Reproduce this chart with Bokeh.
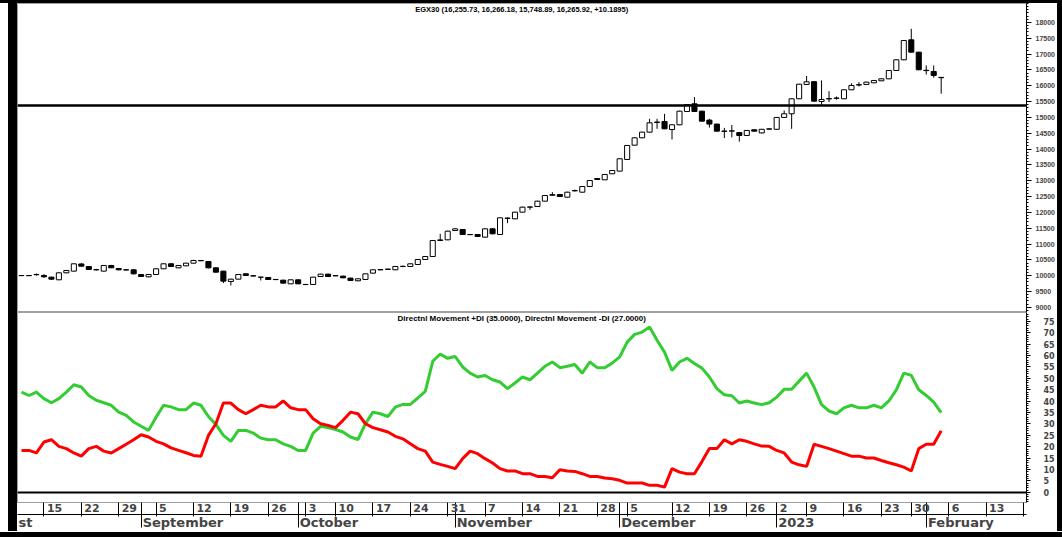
from bokeh.plotting import figure
from bokeh.layouts import column, row
from bokeh.models import ColumnDataSource, FixedTicker, LinearAxis, Range1d, Span, Label, Div
from bokeh.embed import file_html
from bokeh.resources import INLINE

# ---------------- data ----------------
opens = [10000, 10003, 10030, 10006, 9953, 9869, 10090, 10143, 10370, 10290,
         10185, 10143, 10322, 10227, 10185, 10185, 10037, 9964, 10037, 10217,
         10374, 10248, 10311, 10395, 10480, 10448, 10248, 10143, 9817, 9890,
         10058, 9996, 9953, 9943, 9880, 9858, 9742, 9869, 9722, 9722,
         9974, 10048, 9995, 9985, 9922, 9838, 9880, 10080, 10185, 10200,
         10185, 10290, 10290, 10353, 10511, 10606, 11112, 11133, 11428, 11459,
         11301, 11301, 11217, 11480, 11301, 11810, 11796, 12007, 12165, 12186,
         12354, 12540, 12565, 12480, 12680, 12638, 12817, 13070, 13029, 13219,
         13303, 13672, 14124, 14356, 14535, 14840, 14872, 14619, 14767, 15188,
         15430, 15198, 14915, 14790, 14560, 14570, 14520, 14430, 14609, 14510,
         14630, 14625, 15000, 15115, 15589, 16042, 16130, 15504, 15585, 15605,
         15589, 15873, 16025, 16042, 16094, 16157, 16220, 16484, 16821, 17452,
         17063, 16490, 16452, 16255.73]
highs = [10015, 10012, 10070, 10050, 9965, 10100, 10180, 10390, 10400, 10300,
         10215, 10330, 10340, 10245, 10200, 10200, 10050, 10050, 10225, 10385,
         10400, 10330, 10405, 10500, 10495, 10460, 10260, 10150, 9900, 10045,
         10070, 10005, 9960, 9955, 9890, 9870, 9875, 9880, 9740, 9960,
         10060, 10060, 10015, 10000, 9935, 9910, 10065, 10195, 10200, 10220,
         10300, 10320, 10385, 10520, 10620, 11120, 11322, 11420, 11495, 11470,
         11310, 11310, 11490, 11495, 11840, 11840, 12015, 12180, 12180, 12365,
         12545, 12638, 12575, 12650, 12720, 12830, 13015, 13080, 13210, 13335,
         13700, 14125, 14365, 14545, 14956, 14956, 15114, 14780, 15210, 15420,
         15641, 15210, 14957, 14800, 14670, 14760, 14540, 14600, 14620, 14635,
         14660, 15010, 15220, 15600, 16060, 16310, 16140, 16168, 15831, 15660,
         15885, 16080, 16115, 16125, 16180, 16230, 16495, 16830, 17440, 17800,
         17070, 16642, 16642, 16266.18]
lows = [9995, 9992, 10000, 9930, 9870, 9860, 10080, 10130, 10290, 10180,
        10160, 10130, 10240, 10170, 10165, 10040, 9960, 9950, 10030, 10210,
        10280, 10240, 10300, 10385, 10460, 10230, 10100, 9764, 9690, 9880,
        9995, 9975, 9848, 9870, 9865, 9750, 9735, 9730, 9700, 9710,
        9965, 9965, 9985, 9920, 9835, 9825, 9870, 10070, 10175, 10190,
        10175, 10270, 10280, 10340, 10500, 10600, 11090, 11120, 11415, 11290,
        11285, 11225, 11205, 11310, 11290, 11660, 11785, 11995, 12080, 12175,
        12345, 12530, 12490, 12470, 12660, 12625, 12805, 13030, 13020, 13210,
        13295, 13665, 14115, 14345, 14525, 14640, 14630, 14303, 14755, 15180,
        15180, 14870, 14680, 14555, 14350, 14370, 14235, 14420, 14555, 14500,
        14620, 14615, 14990, 14640, 15580, 16030, 15500, 15378, 15483, 15560,
        15580, 15865, 15978, 16035, 16085, 16150, 16210, 16475, 16810, 17050,
        16495, 16357, 16252, 15748.89]
closes = [10005, 10000, 10038, 9964, 9890, 10090, 10164, 10374, 10300, 10195,
          10190, 10322, 10248, 10185, 10180, 10058, 9974, 10037, 10217, 10374,
          10290, 10322, 10395, 10480, 10470, 10248, 10111, 9827, 9890, 10037,
          10006, 9990, 9950, 9880, 9875, 9764, 9869, 9742, 9720, 9953,
          10048, 9974, 10000, 9932, 9848, 9900, 10058, 10185, 10190, 10207,
          10290, 10295, 10374, 10511, 10606, 11112, 11130, 11406, 11480, 11301,
          11295, 11238, 11480, 11322, 11828, 11820, 12007, 12165, 12170, 12354,
          12533, 12560, 12500, 12638, 12690, 12817, 13007, 13040, 13198, 13324,
          13693, 14114, 14356, 14535, 14830, 14855, 14640, 14767, 15198, 15409,
          15188, 14883, 14790, 14567, 14570, 14575, 14430, 14588, 14567, 14625,
          14638, 15000, 15115, 15588, 16050, 16125, 15515, 15568, 15595, 15612,
          15873, 16010, 16035, 16115, 16168, 16220, 16484, 16821, 17431, 17063,
          16505, 16480, 16326, 16265.92]

plus_di = [44.0, 42.5, 44.0, 41.1, 39.3, 41.1, 44.0, 47.2, 46.2, 42.5,
           40.4, 39.3, 38.2, 35.2, 33.8, 30.9, 29.0, 27.2, 33.0, 38.2,
           37.5, 36.3, 36.3, 39.2, 38.2, 33.3, 29.8, 25.0, 22.4, 27.2,
           27.2, 26.0, 23.8, 23.1, 23.1, 21.3, 20.2, 18.4, 18.4, 26.0,
           29.0, 28.4, 27.6, 26.5, 24.3, 23.2, 30.1, 35.2, 34.5, 33.3,
           37.4, 38.6, 38.6, 41.4, 44.3, 57.5, 60.7, 58.8, 59.6, 55.0,
           52.3, 50.6, 51.3, 49.4, 48.4, 45.5, 48.0, 50.6, 49.4, 52.3,
           55.3, 57.2, 54.7, 55.3, 56.1, 52.3, 57.2, 54.7, 54.7, 56.7,
           59.4, 65.9, 69.3, 70.3, 72.5, 66.7, 61.5, 53.5, 57.2, 58.8,
           56.5, 54.5, 50.6, 45.5, 42.8, 42.4, 39.2, 40.1, 39.2, 38.5,
           39.3, 41.8, 45.2, 45.2, 48.8, 52.3, 46.2, 38.5, 35.7, 34.5,
           37.1, 38.2, 37.1, 37.1, 38.2, 37.1, 40.1, 45.0, 52.3, 51.3,
           45.0, 42.5, 39.6, 35.0]
minus_di = [18.4, 18.4, 17.3, 22.1, 23.1, 20.2, 19.2, 17.3, 15.9, 19.2,
            20.2, 18.1, 17.3, 19.2, 21.1, 23.1, 25.3, 24.3, 22.4, 21.3,
            19.5, 18.4, 17.4, 16.2, 15.9, 25.0, 30.1, 39.2, 39.2, 36.3,
            34.5, 36.3, 38.2, 37.5, 37.5, 40.1, 37.1, 36.3, 36.3, 32.3,
            30.1, 29.4, 28.4, 31.6, 35.2, 34.5, 30.1, 28.4, 27.5, 26.5,
            24.6, 23.5, 21.3, 19.2, 18.1, 13.3, 12.3, 11.4, 10.4, 14.8,
            18.1, 17.0, 14.8, 12.9, 10.4, 9.4, 9.4, 8.2, 8.2, 7.0,
            7.0, 6.4, 9.9, 9.4, 9.2, 8.2, 7.0, 7.0, 6.3, 6.0,
            5.3, 4.1, 4.1, 4.1, 3.1, 3.1, 2.3, 10.4, 8.9, 8.2,
            8.2, 13.5, 19.2, 19.2, 23.1, 21.3, 23.1, 22.4, 21.3, 20.3,
            20.2, 18.4, 17.3, 13.3, 12.1, 11.4, 21.1, 20.2, 19.2, 18.1,
            17.0, 15.9, 15.9, 15.1, 15.1, 14.0, 13.0, 12.1, 11.1, 9.4,
            19.2, 21.1, 21.1, 27.0]

level_line = 15380

# weekly date ticks (trading-day index) and labels
day_tick_idx = [3, 8, 13, 18, 23, 28, 33, 38, 42, 47, 52, 57, 62, 67, 72, 77,
                81, 87, 92, 97, 101, 105, 110, 115, 119, 124, 129, 134]
day_tick_labels = ["15", "22", "29", "5", "12", "19", "26", "3", "10", "17", "24",
                   "31", "7", "14", "21", "28", "5", "12", "19", "26", "2", "9",
                   "16", "23", "30", "6", "13", "20"]
month_idx = [16, 37, 58, 80, 101, 121]
month_labels = ["September", "October", "November", "December", "2023", "February"]
first_month_label = "st"

price_title = "EGX30 (16,255.73, 16,266.18, 15,748.89, 16,265.92, +10.1895)"
di_title = "Directnl Movement +DI (35.0000), Directnl Movement -DI (27.0000)"

price_major = list(range(9000, 18001, 500))
price_minor = list(range(8900, 18601, 100))
di_major = list(range(0, 76, 5))
di_minor = list(range(-5, 79, 1))

# ---------------- layout constants (page has no body margin) ----------------
X0, X1 = -0.535, 134.41
FW = 1009
RB = 31
PPU = FW / (X1 - X0)
PH = 309          # price frame height
DH = 190          # DI frame height
GRAY = "#a0a0a0"
GREEN = "#33cc33"
RED = "#ff0000"

CW = {'S': .720, 'e': .678, 'p': .716, 't': .478, 'm': 1.042, 'b': .716, 'r': .493,
      'O': .850, 'c': .593, 'o': .687, 'N': .837, 'v': .652, 'D': .830, 'F': .683,
      'u': .712, 'a': .675, 'y': .652, 's': .595}


def text_w(s, size):
    return sum(CW.get(ch, 0.696) for ch in s) * size


def bar(w, h, color="black"):
    return Div(text="", width=w, height=h, margin=0,
               styles={"background-color": color, "width": f"{w}px", "height": f"{h}px"})


idx = list(range(len(opens)))
tops = [max(o, c) for o, c in zip(opens, closes)]
bottoms = [min(o, c) for o, c in zip(opens, closes)]
fills = ["white" if c >= o else "black" for o, c in zip(opens, closes)]
csrc = ColumnDataSource(dict(x=idx, open=opens, high=highs, low=lows, close=closes,
                             top=tops, bottom=bottoms, fill=fills))

# ---------------- price panel ----------------
p1 = figure(frame_width=FW, frame_height=PH, x_range=Range1d(X0, X1),
            y_range=Range1d(8836, 18600), x_axis_location=None,
            y_axis_location="right", output_backend="svg", toolbar_location=None,
            min_border=0, min_border_right=RB, background_fill_color="white",
            border_fill_color="white", outline_line_color=GRAY)
p1.xgrid.grid_line_color = None
p1.ygrid.grid_line_color = None
ya = p1.yaxis[0]
ya.ticker = FixedTicker(ticks=price_major, minor_ticks=price_minor)
ya.major_tick_out = 5
ya.major_tick_in = 0
ya.minor_tick_out = 2
ya.minor_tick_in = 0
ya.major_label_standoff = 4
ya.axis_line_color = "black"
ya.major_label_text_font = "Liberation Sans"
ya.major_label_text_font_style = "bold"
ya.major_label_text_font_size = "7px"

p1.segment(x0="x", y0="low", x1="x", y1="high", source=csrc, line_color="black", line_width=1)
p1.vbar(x="x", width=0.68, top="top", bottom="bottom", source=csrc,
        fill_color="fill", line_color="black", line_width=1)
p1.add_layout(Span(location=level_line, dimension="width", line_color="black", line_width=2.5))
p1.add_layout(Label(x=66.9, y=18411, text=price_title, text_align="center",
                    text_baseline="middle", text_font="Liberation Sans",
                    text_font_style="bold", text_font_size="7.5px", text_color="black"))

# ---------------- DI panel ----------------
p2 = figure(frame_width=FW, frame_height=DH, x_range=p1.x_range,
            y_range=Range1d(78.9 - DH / 2.28, 78.9), x_axis_location=None,
            y_axis_location="right", output_backend="svg", toolbar_location=None,
            min_border=0, min_border_right=RB, background_fill_color="white",
            border_fill_color="white", outline_line_color=GRAY)
p2.xgrid.grid_line_color = None
p2.ygrid.grid_line_color = None
da = p2.yaxis[0]
da.ticker = FixedTicker(ticks=di_major, minor_ticks=di_minor)
da.major_tick_out = 4
da.major_tick_in = 0
da.minor_tick_out = 2
da.minor_tick_in = 0
da.major_label_standoff = 13
da.axis_line_color = "black"
da.major_label_text_font = "DejaVu Sans"
da.major_label_text_font_style = "bold"
da.major_label_text_font_size = "8px"

p2.line(idx, plus_di, line_color=GREEN, line_width=3)
p2.line(idx, minus_di, line_color=RED, line_width=3)
p2.add_layout(Span(location=0, dimension="width", line_color="black", line_width=2))
p2.add_layout(Label(x=66.9, y=76.3, text=di_title, text_align="center",
                    text_baseline="middle", text_font="Liberation Sans",
                    text_font_style="bold", text_font_size="8px", text_color="black"))

# day row: separators as minor ticks, labels just right of them
DAY_FS = 11
DAY_ROW = 14
day_pos = [round(t + (3 + text_w(l, DAY_FS) / 2) / PPU, 4) for t, l in zip(day_tick_idx, day_tick_labels)]
day_sep = sorted(set(day_tick_idx + month_idx))
day_axis = LinearAxis(ticker=FixedTicker(ticks=day_pos, minor_ticks=day_sep),
                      major_label_overrides={p: l for p, l in zip(day_pos, day_tick_labels)})
day_axis.major_tick_out = 0
day_axis.major_tick_in = 0
day_axis.minor_tick_out = DAY_ROW
day_axis.minor_tick_in = 0
day_axis.minor_tick_line_color = "black"
day_axis.major_label_standoff = -DAY_ROW + 1
day_axis.axis_line_color = GRAY
day_axis.major_label_text_font = "DejaVu Sans"
day_axis.major_label_text_font_style = "bold"
day_axis.major_label_text_font_size = f"{DAY_FS}px"
p2.add_layout(day_axis, "below")

MON_FS = 13
MON_ROW = 13
mon_pos = [round(X0 + (1 + text_w(first_month_label, MON_FS) / 2) / PPU, 4)]
mon_pos += [round(t + (1.5 + text_w(l, MON_FS) / 2) / PPU, 4) for t, l in zip(month_idx, month_labels)]
mon_text = [first_month_label] + month_labels
month_axis = LinearAxis(ticker=FixedTicker(ticks=mon_pos, minor_ticks=month_idx),
                        major_label_overrides={p: l for p, l in zip(mon_pos, mon_text)})
month_axis.major_tick_out = 0
month_axis.major_tick_in = 0
month_axis.minor_tick_out = MON_ROW
month_axis.minor_tick_in = 0
month_axis.minor_tick_line_color = "black"
month_axis.major_label_standoff = -MON_ROW
month_axis.axis_line_color = "black"
month_axis.major_label_text_font = "DejaVu Sans"
month_axis.major_label_text_font_style = "bold"
month_axis.major_label_text_font_size = f"{MON_FS}px"
p2.add_layout(month_axis, "below")

MID_H = PH + DH + 14 + 15
middle = row(bar(8, MID_H, "white"), bar(9, MID_H), column(p1, p2, spacing=0),
             bar(5, MID_H), spacing=0)
layout = column(bar(1062, 3), middle, bar(1062, 5), spacing=0)

open("out.html", "w").write(file_html(layout, INLINE))
